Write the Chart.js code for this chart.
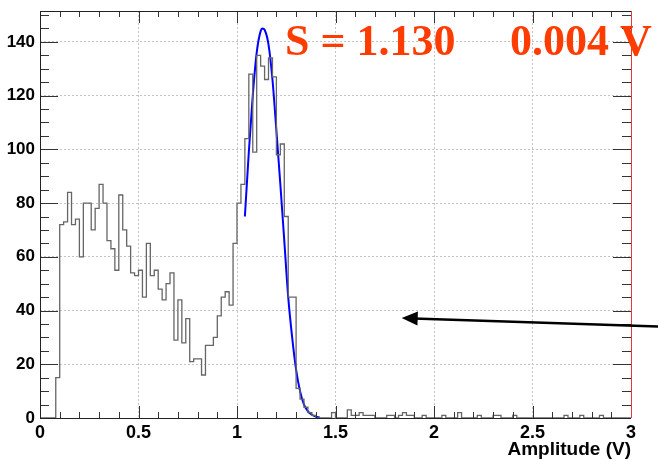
<!DOCTYPE html>
<html>
<head>
<meta charset="utf-8">
<script src="https://cdn.jsdelivr.net/npm/chart.js@4/dist/chart.umd.min.js"></script>
<style>
html, body { margin: 0; padding: 0; background: #fff; }
</style>
</head>
<body>
<canvas id="ampChart" width="658" height="461"></canvas>
<script>
// histogram: 150 bins of 0.02 V from 0 to 3 V
const binWidth = 0.02;
const counts = [
    0, 0, 0, 0, 15, 72, 73, 84, 72, 74,
    60, 80, 80, 70, 78, 87, 80, 66, 63, 55,
    83, 70, 64, 54, 53, 55, 45, 65, 53, 55,
    48, 44, 50, 54, 29, 44, 28, 37, 21, 22,
    22, 16, 27, 27, 30, 38, 45, 47, 42, 65,
    80, 87, 104, 128, 99, 135, 131, 126, 134, 127,
    98, 102, 75, 45, 45, 11, 7, 4, 2, 1,
    0, 0, 0, 0, 2, 0, 0, 0, 3, 1,
    1, 2, 1, 1, 1, 0, 0, 0, 1, 1,
    0, 1, 2, 1, 1, 0, 0, 1, 0, 0,
    0, 0, 1, 0, 0, 0, 2, 0, 0, 0,
    0, 1, 0, 0, 0, 1, 1, 0, 0, 0,
    1, 0, 0, 0, 0, 0, 0, 0, 0, 0,
    0, 0, 0, 1, 0, 0, 0, 1, 0, 0,
    0, 0, 1, 0, 0, 0, 0, 0, 0, 0
];

// gaussian fit curve
const fitX = [1.04, 1.06, 1.08, 1.10, 1.12, 1.13, 1.14, 1.16, 1.18, 1.20, 1.22, 1.24, 1.26, 1.28, 1.30, 1.32, 1.34, 1.36, 1.38, 1.40, 1.42];
const fitY = [75, 99, 120, 136, 144, 145, 144.5, 139, 126, 107, 87, 66, 45, 30, 18, 10, 5, 2.5, 1.2, 0.5, 0.2];

const xTicks = [0, 0.5, 1, 1.5, 2, 2.5, 3];
const yTicks = [0, 20, 40, 60, 80, 100, 120, 140];
const xMax = 3;
const yMax = 151.5;

const labelFont = '"Liberation Sans", Arial, Helvetica, sans-serif';

const histPoints = counts.map((c, i) => ({ x: i * binWidth, y: c }));
histPoints.push({ x: counts.length * binWidth, y: counts[counts.length - 1] });
const fitPoints = fitX.map((x, i) => ({ x: x, y: fitY[i] }));

const decor = {
    id: 'decor',
    afterDraw(chart) {
        const { ctx, chartArea: ca } = chart;
        const xs = chart.scales.x, ys = chart.scales.y;
        ctx.save();

        // ticks on all four sides, pointing inward
        ctx.strokeStyle = '#333';
        ctx.lineWidth = 1;
        ctx.beginPath();
        for (let k = 0; k <= 30; k++) {
            const px = Math.round(xs.getPixelForValue(k * 0.1)) + 0.5;
            const len = k % 5 === 0 ? 12 : 6;
            ctx.moveTo(px, ca.bottom); ctx.lineTo(px, ca.bottom - len);
            ctx.moveTo(px, ca.top); ctx.lineTo(px, ca.top + len);
        }
        for (let k = 0; k * 5 <= yMax; k++) {
            const py = Math.round(ys.getPixelForValue(k * 5)) + 0.5;
            const len = k % 4 === 0 ? 18 : 9;
            ctx.moveTo(ca.left, py); ctx.lineTo(ca.left + len, py);
            ctx.moveTo(ca.right, py); ctx.lineTo(ca.right - len, py);
        }
        ctx.stroke();

        // frame
        ctx.strokeStyle = '#222';
        ctx.beginPath();
        ctx.moveTo(Math.round(ca.left) + 0.5, ca.top);
        ctx.lineTo(Math.round(ca.left) + 0.5, ca.bottom);
        ctx.moveTo(ca.left, Math.round(ca.bottom) + 0.5);
        ctx.lineTo(ca.right, Math.round(ca.bottom) + 0.5);
        ctx.moveTo(ca.left, Math.round(ca.top) + 0.5);
        ctx.lineTo(ca.right, Math.round(ca.top) + 0.5);
        ctx.stroke();
        ctx.strokeStyle = '#e03a3a';
        ctx.beginPath();
        ctx.moveTo(Math.round(ca.right) + 0.5, ca.top);
        ctx.lineTo(Math.round(ca.right) + 0.5, ca.bottom);
        ctx.stroke();

        // axis title
        ctx.fillStyle = '#000';
        ctx.font = 'bold 19px ' + labelFont;
        ctx.textAlign = 'right';
        ctx.textBaseline = 'alphabetic';
        ctx.fillText('Amplitude (V)', ca.right, 455);

        // fit result
        ctx.fillStyle = '#ff3c00';
        ctx.font = 'bold 44px "Liberation Serif", "Times New Roman", serif';
        ctx.textAlign = 'left';
        ctx.fillText('S = 1.130', xs.getPixelForValue(1.244), ys.getPixelForValue(135.3));
        ctx.fillText('0.004 V', xs.getPixelForValue(2.386), ys.getPixelForValue(135.3));

        // arrow
        const x0 = xs.getPixelForValue(3.15), y0 = ys.getPixelForValue(34);
        const x1 = xs.getPixelForValue(1.836), y1 = ys.getPixelForValue(37.2);
        const ang = Math.atan2(y1 - y0, x1 - x0);
        ctx.strokeStyle = '#000';
        ctx.fillStyle = '#000';
        ctx.lineWidth = 2.5;
        ctx.beginPath();
        ctx.moveTo(x0, y0);
        ctx.lineTo(x1 - 12 * Math.cos(ang), y1 - 12 * Math.sin(ang));
        ctx.stroke();
        ctx.beginPath();
        ctx.moveTo(x1, y1);
        ctx.lineTo(x1 - 16 * Math.cos(ang) + 7 * Math.sin(ang), y1 - 16 * Math.sin(ang) - 7 * Math.cos(ang));
        ctx.lineTo(x1 - 16 * Math.cos(ang) - 7 * Math.sin(ang), y1 - 16 * Math.sin(ang) + 7 * Math.cos(ang));
        ctx.closePath();
        ctx.fill();

        ctx.restore();
    }
};

const ctx = document.getElementById('ampChart').getContext('2d');

const ampChart = new Chart(ctx, {
    type: 'line',
    data: {
        datasets: [{
            label: 'counts',
            data: histPoints,
            stepped: true,
            borderColor: '#666',
            borderWidth: 1.3,
            pointRadius: 0,
            fill: false,
        }, {
            label: 'fit',
            data: fitPoints,
            borderColor: '#0000ff',
            borderWidth: 2,
            cubicInterpolationMode: 'monotone',
            pointRadius: 0,
            fill: false,
        }]
    },
    options: {
        responsive: false,
        animation: false,
        layout: { padding: { left: 0, right: 27, top: 11, bottom: 0 } },
        plugins: {
            legend: { display: false },
            tooltip: { enabled: false },
        },
        scales: {
            x: {
                type: 'linear',
                min: 0,
                max: xMax,
                afterBuildTicks: (scale) => { scale.ticks = xTicks.map(v => ({ value: v })); },
                afterFit: (scale) => { scale.height = 43; scale.paddingLeft = 0; scale.paddingRight = 0; },
                grid: { color: '#c4c4c4', drawTicks: false },
                border: { display: false, dash: [2, 2] },
                ticks: {
                    color: '#000',
                    padding: 4,
                    maxRotation: 0,
                    autoSkip: false,
                    font: { size: 18, weight: 'bold', family: labelFont },
                    callback: (v) => String(v),
                }
            },
            y: {
                type: 'linear',
                min: 0,
                max: yMax,
                afterBuildTicks: (scale) => { scale.ticks = yTicks.map(v => ({ value: v })); },
                afterFit: (scale) => { scale.width = 40; scale.paddingTop = 0; scale.paddingBottom = 0; },
                grid: { color: '#c4c4c4', drawTicks: false },
                border: { display: false, dash: [2, 2] },
                ticks: {
                    color: '#000',
                    padding: 5,
                    autoSkip: false,
                    font: { size: 17, weight: 'bold', family: labelFont },
                    callback: (v) => String(v),
                }
            }
        }
    },
    plugins: [decor]
});
</script>
</body>
</html>
